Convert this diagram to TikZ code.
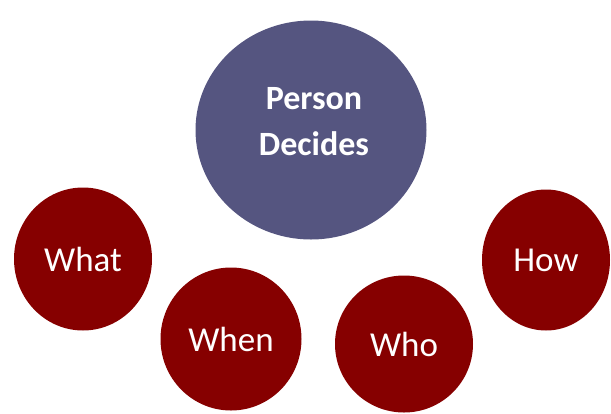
\documentclass[tikz,border=0pt]{standalone}
\usepackage{fontspec}
\setmainfont{Carlito}
\usetikzlibrary{shapes.geometric}
\definecolor{kreisblau}{RGB}{85,85,128}
\definecolor{kreisrot}{RGB}{134,0,0}

\begin{document}
\begin{tikzpicture}[x=1pt,y=-1pt,
	frage/.style={draw=none,fill=kreisrot,ellipse,inner sep=0pt,text=white,font=\fontsize{35}{42}\selectfont}]
	\useasboundingbox (0,0) rectangle (611,413);
		\node[draw=none,fill=kreisblau,ellipse,inner sep=0pt,minimum width=231,minimum height=219] (P) at (311,130) {};
		\node[text=white,align=center,font=\fontsize{34}{46}\selectfont\bfseries] (PT) at (314,122) {Person\\Decides};
		\node[frage,minimum width=138,minimum height=143] (What) at (83,259) {What};
		\node[frage,minimum width=141,minimum height=143] (When) at (231,339) {When};
		\node[frage,minimum width=138,minimum height=137] (Who) at (404,344) {Who};
		\node[frage,minimum width=128,minimum height=141] (How) at (546,260) {How};
\end{tikzpicture}
\end{document}
